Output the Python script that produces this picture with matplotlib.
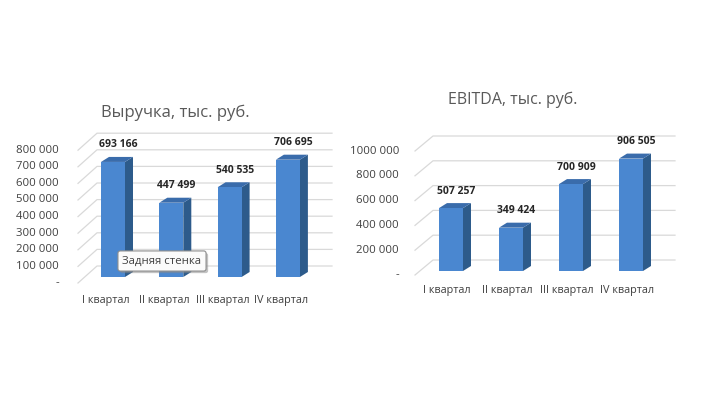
import matplotlib
matplotlib.use("Agg")
import matplotlib.pyplot as plt
import matplotlib.patheffects as pe
from matplotlib.patches import Polygon

plt.rcParams['font.family'] = ['Open Sans', 'DejaVu Sans']

quarters = ['I квартал', 'II квартал', 'III квартал', 'IV квартал']

revenue = [693166, 447499, 540535, 706695]
revenue_title = 'Выручка, тыс. руб.'
revenue_ticks = [0, 100000, 200000, 300000, 400000, 500000, 600000, 700000, 800000]
revenue_ticklabels = ['-', '100 000', '200 000', '300 000', '400 000',
                      '500 000', '600 000', '700 000', '800 000']

ebitda = [507257, 349424, 700909, 906505]
ebitda_title = 'EBITDA, тыс. руб.'
ebitda_ticks = [0, 200000, 400000, 600000, 800000, 1000000]
ebitda_ticklabels = ['-', '200 000', '400 000', '600 000', '800 000', '1000 000']

FRONT = '#4a87d0'
SIDE = '#2d5b8b'
TOP = '#3a6cab'
GRID = '#d9d9d9'
TXT = '#404040'


def fmt(v):
    return f'{v:,}'.replace(',', ' ')


def draw_chart(ax, title, vals, ticks, ticklabels, lay):
    # lay: pixel layout of the panel -> data limits
    px0, px1, cx0, step, base, ppu = lay['px0'], lay['px1'], lay['cx0'], lay['step'], lay['base'], lay['ppu']
    ax.set_xlim((px0 - cx0) / step, (px1 - cx0) / step)
    ax.set_ylim((base - 397) / ppu, base / ppu)
    ax.axis('off')

    sx = 1.0 / step      # data per pixel, x
    sy = 1.0 / ppu       # data per pixel, y

    # walls: side wall diagonals + back wall lines
    fx, bx = lay['wall_front_x'], lay['wall_back_x']
    fy, by = lay['wall_front_dy'], lay['wall_back_dy']
    xr = lay['wall_right_x']
    for t, lab in zip(ticks, ticklabels):
        x_front = (fx - cx0) * sx
        x_back = (bx - cx0) * sx
        y_front = t - fy * sy
        y_back = t - by * sy
        ax.plot([x_front, x_back, (xr - cx0) * sx], [y_front, y_back, y_back],
                color=GRID, lw=0.9, zorder=1)
        ax.text((lay['label_right'] - cx0) * sx, y_front, lab, ha='right', va='center',
                fontsize=8.2, color=TXT)

    w = 24 * sx
    dx = 8 * sx
    dy = 5 * sy
    for i, v in enumerate(vals):
        xl, xr_ = i - w / 2, i + w / 2
        ax.add_patch(Polygon([(xr_, 0), (xr_ + dx, dy), (xr_ + dx, v + dy), (xr_, v)],
                             closed=True, fc=SIDE, ec='none', zorder=3))
        ax.add_patch(Polygon([(xl, v), (xr_, v), (xr_ + dx, v + dy), (xl + dx, v + dy)],
                             closed=True, fc=TOP, ec='none', zorder=3))
        ax.bar(i, v, width=w, color=FRONT, zorder=4)
        ax.text(i + 5 * sx, v + 17 * sy, fmt(v), ha='center', va='center',
                fontsize=7.5, fontweight='bold', color='#262626', zorder=5)
        ax.text(i - lay['cat_shift'] * sx, (base - lay['cat_y']) * sy, quarters[i],
                ha='center', va='center', fontsize=7.8, color=TXT)

    ax.text((lay['title_x'] - cx0) * sx, (base - lay['title_y']) * sy, title,
            ha='center', va='center', fontsize=lay['title_size'], color='#595959')


fig = plt.figure(figsize=(7.01, 3.97), dpi=100)
fig.patch.set_facecolor('white')

ax1 = fig.add_axes([0, 0, 350 / 701, 1])
ax2 = fig.add_axes([350 / 701, 0, 351 / 701, 1])

left_layout = dict(px0=0, px1=350, cx0=113, step=58.3, base=277, ppu=16.6e-5,
                   wall_front_x=78, wall_back_x=97, wall_front_dy=6, wall_back_dy=-11,
                   wall_right_x=332, label_right=59, cat_shift=7, cat_y=300,
                   title_x=175, title_y=113, title_size=12)
right_layout = dict(px0=350, px1=701, cx0=451, step=60, base=271, ppu=12.4e-5,
                    wall_front_x=415, wall_back_x=433, wall_front_dy=4, wall_back_dy=-11,
                    wall_right_x=675, label_right=399, cat_shift=4, cat_y=291,
                    title_x=513, title_y=100, title_size=11.5)

draw_chart(ax1, revenue_title, revenue, revenue_ticks, revenue_ticklabels, left_layout)
draw_chart(ax2, ebitda_title, ebitda, ebitda_ticks, ebitda_ticklabels, right_layout)

# tooltip left over in the screenshot, with a soft shadow
tip = fig.text(162 / 701, 1 - 261 / 397, 'Задняя стенка', ha='center', va='center',
               fontsize=8.2, color='#404040', zorder=10,
               bbox=dict(boxstyle='round,pad=0.4,rounding_size=0.2', fc='#fbfbfb', ec='#8c8c8c', lw=0.8))
tip.get_bbox_patch().set_path_effects([
    pe.withSimplePatchShadow(offset=(1.5, -1.5), shadow_rgbFace='#888888', alpha=0.5)])

fig.savefig('out.png', dpi=100, facecolor='white')
